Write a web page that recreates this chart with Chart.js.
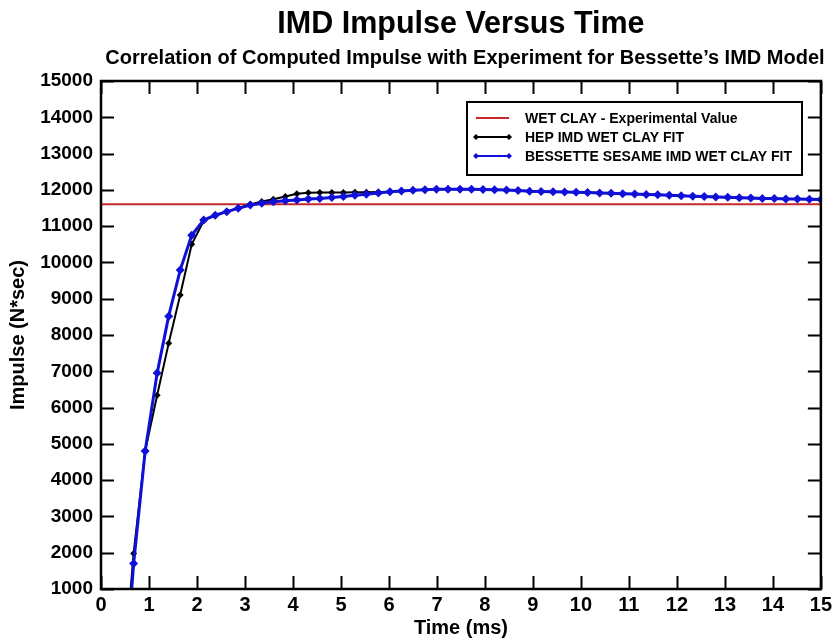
<!DOCTYPE html>
<html>
<head>
<meta charset="utf-8">
<script src="https://cdn.jsdelivr.net/npm/chart.js@4.4.1/dist/chart.umd.min.js"></script>
<style>
    html, body { margin: 0; background: #fff; }
    #wrap { width: 836px; height: 642px; }
</style>
</head>
<body>
<div id="wrap"><canvas id="impulseChart" width="836" height="642"></canvas></div>
<script>
// time samples (ms), shared by both fits
const timeMs = [
    0.44, 0.68, 0.92, 1.17, 1.41, 1.65, 1.89, 2.14, 2.38, 2.62, 2.86, 3.11, 3.35, 3.59, 3.84,
    4.08, 4.32, 4.56, 4.81, 5.05, 5.29, 5.53, 5.78, 6.02, 6.26, 6.50, 6.75, 6.99, 7.23, 7.48,
    7.72, 7.96, 8.20, 8.45, 8.69, 8.93, 9.17, 9.42, 9.66, 9.90, 10.14, 10.39, 10.63, 10.87, 11.12,
    11.36, 11.60, 11.84, 12.09, 12.33, 12.57, 12.81, 13.06, 13.30, 13.54, 13.78, 14.03, 14.27, 14.51, 14.76,
    15.00,
];

// HEP IMD wet clay fit (N*sec)
const hepFit = [
    -1800, 1980, 4800, 6340, 7770, 9100, 10500, 11150, 11300, 11400, 11500, 11600, 11680, 11740, 11815,
    11890, 11920, 11925, 11928, 11930, 11933, 11936, 11940, 11948, 11970, 11990, 12005, 12015, 12020, 12020,
    12015, 12010, 12000, 11993, 11985, 11965, 11955, 11948, 11940, 11932, 11925, 11915, 11905, 11895, 11885,
    11875, 11865, 11850, 11840, 11825, 11815, 11805, 11795, 11785, 11775, 11765, 11760, 11750, 11745, 11740,
    11735,
];

// Bessette SESAME IMD wet clay fit (N*sec)
const sesameFit = [
    -2500, 1700, 4800, 6950, 8520, 9790, 10750, 11170, 11300, 11400, 11490, 11580, 11630, 11670, 11700,
    11720, 11745, 11765, 11790, 11820, 11850, 11880, 11915, 11945, 11970, 11990, 12005, 12015, 12020, 12020,
    12015, 12010, 12000, 11993, 11985, 11965, 11955, 11948, 11940, 11932, 11925, 11915, 11905, 11895, 11885,
    11875, 11865, 11850, 11840, 11825, 11815, 11805, 11795, 11785, 11775, 11765, 11760, 11750, 11745, 11740,
    11735,
];

// experimental wet clay impulse, drawn across the full time range
const clayTime = [0, 15];
const clayValue = [11600, 11600];

const FONT = '"Liberation Sans", Arial, Helvetica, sans-serif';
const BLUE = '#1010d8';
const RED = '#c8282a';

const toPoints = (xs, ys) => xs.map((x, i) => ({ x: x, y: ys[i] }));

// frame, inward ticks on all four sides, titles and the boxed legend
const framePlugin = {
    id: 'frame',
    afterDraw(chart) {
        const ctx = chart.ctx;
        const area = chart.chartArea;
        const xScale = chart.scales.x;
        const yScale = chart.scales.y;
        const tickLen = 13;

        ctx.save();
        ctx.strokeStyle = '#000';
        ctx.lineWidth = 2;
        ctx.beginPath();
        xScale.ticks.forEach((t) => {
            const px = Math.round(xScale.getPixelForValue(t.value)) + 0.5;
            ctx.moveTo(px, area.bottom);
            ctx.lineTo(px, area.bottom - tickLen);
            ctx.moveTo(px, area.top);
            ctx.lineTo(px, area.top + tickLen);
        });
        yScale.ticks.forEach((t) => {
            const py = Math.round(yScale.getPixelForValue(t.value)) + 0.5;
            ctx.moveTo(area.left, py);
            ctx.lineTo(area.left + tickLen, py);
            ctx.moveTo(area.right, py);
            ctx.lineTo(area.right - tickLen, py);
        });
        ctx.stroke();

        ctx.lineWidth = 2.5;
        ctx.strokeRect(area.left, area.top, area.right - area.left, area.bottom - area.top);

        // titles
        const cx = (area.left + area.right) / 2;
        ctx.fillStyle = '#000';
        ctx.textAlign = 'center';
        ctx.textBaseline = 'alphabetic';
        ctx.font = 'bold 30.5px ' + FONT;
        ctx.fillText('IMD Impulse Versus Time', cx, 33);
        ctx.font = 'bold 20px ' + FONT;
        ctx.fillText('Correlation of Computed Impulse with Experiment for Bessette\u2019s IMD Model', cx + 4, 64);

        ctx.font = 'bold 20px ' + FONT;
        ctx.fillText('Time (ms)', cx, 634);
        ctx.save();
        ctx.translate(18, (area.top + area.bottom) / 2);
        ctx.rotate(-Math.PI / 2);
        ctx.textBaseline = 'middle';
        ctx.fillText('Impulse (N*sec)', 0, 0);
        ctx.restore();

        // legend
        const box = { left: 467, top: 102, width: 335, height: 73 };
        ctx.fillStyle = '#fff';
        ctx.fillRect(box.left, box.top, box.width, box.height);
        ctx.lineWidth = 2;
        ctx.strokeStyle = '#000';
        ctx.strokeRect(box.left, box.top, box.width, box.height);

        const rows = [box.top + 16, box.top + 35, box.top + 54];
        const items = [chart.data.datasets[0], chart.data.datasets[1], chart.data.datasets[2]];
        ctx.textAlign = 'left';
        ctx.textBaseline = 'middle';
        ctx.font = 'bold 14px ' + FONT;
        items.forEach((ds, i) => {
            const y = rows[i];
            ctx.strokeStyle = ds.borderColor;
            ctx.lineWidth = 2;
            ctx.beginPath();
            ctx.moveTo(476, y);
            ctx.lineTo(509, y);
            ctx.stroke();
            if (ds.pointRadius > 0) {
                ctx.fillStyle = ds.borderColor;
                [476, 509].forEach((px) => {
                    ctx.beginPath();
                    ctx.moveTo(px, y - 3);
                    ctx.lineTo(px + 3, y);
                    ctx.lineTo(px, y + 3);
                    ctx.lineTo(px - 3, y);
                    ctx.closePath();
                    ctx.fill();
                });
            }
            ctx.fillStyle = '#000';
            ctx.fillText(ds.label, 525, y + 1);
        });
        ctx.restore();
    },
};

new Chart(document.getElementById('impulseChart'), {
    type: 'line',
    data: {
        datasets: [
            {
                label: 'WET CLAY - Experimental Value',
                data: toPoints(clayTime, clayValue),
                borderColor: RED,
                borderWidth: 2,
                pointRadius: 0,
                order: 3,
            },
            {
                label: 'HEP IMD WET CLAY FIT',
                data: toPoints(timeMs, hepFit),
                borderColor: '#000',
                backgroundColor: '#000',
                borderWidth: 2,
                pointStyle: 'rectRot',
                pointRadius: 3.5,
                pointBorderWidth: 0,
                order: 2,
            },
            {
                label: 'BESSETTE SESAME IMD WET CLAY FIT',
                data: toPoints(timeMs, sesameFit),
                borderColor: BLUE,
                backgroundColor: BLUE,
                borderWidth: 3,
                pointStyle: 'rectRot',
                pointRadius: 4.5,
                pointBorderWidth: 0,
                order: 1,
            },
        ],
    },
    options: {
        responsive: false,
        animation: false,
        layout: {
            padding: { top: 81, right: 13, left: 0, bottom: 0 },
        },
        plugins: {
            legend: { display: false },
            tooltip: { enabled: false },
        },
        scales: {
            x: {
                type: 'linear',
                min: 0,
                max: 15,
                grid: { display: false, drawTicks: false },
                border: { display: false },
                ticks: {
                    stepSize: 1,
                    padding: 4,
                    color: '#000',
                    font: { family: FONT, size: 20, weight: 'bold' },
                },
                afterFit(scale) {
                    scale.height = 53;
                },
            },
            y: {
                min: 1000,
                max: 15000,
                grid: { display: false, drawTicks: false },
                border: { display: false },
                ticks: {
                    stepSize: 1000,
                    padding: 8,
                    color: '#000',
                    font: { family: FONT, size: 19, weight: 'bold' },
                    callback: (value) => String(value),
                },
                afterFit(scale) {
                    scale.width = 101;
                },
            },
        },
    },
    plugins: [framePlugin],
});
</script>
</body>
</html>
